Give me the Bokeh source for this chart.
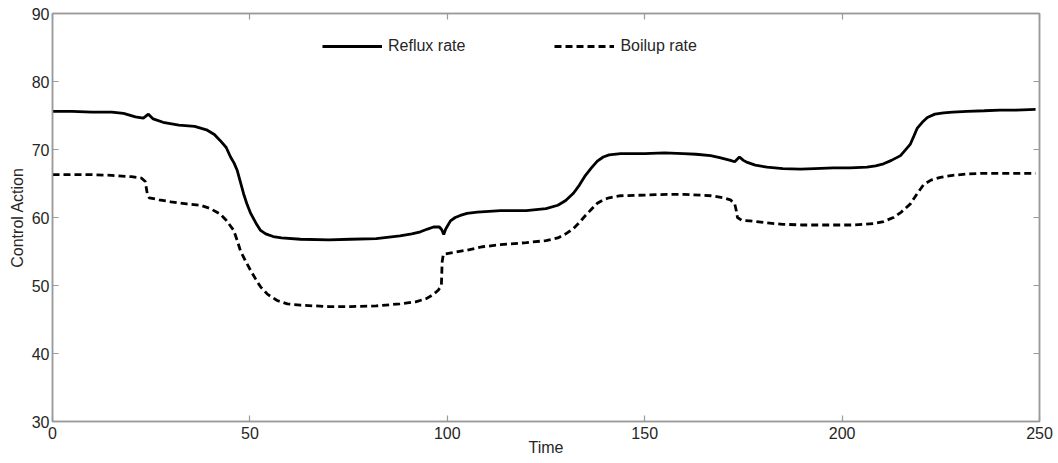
from bokeh.plotting import figure
from bokeh.models import LinearAxis, FixedTicker, Legend, LegendItem, Range1d
from bokeh.embed import file_html
from bokeh.resources import INLINE

# Reflux rate control action over time
reflux_t = [0, 5, 10, 15, 18, 21, 23, 24.3, 25.5, 28, 32, 36, 39, 41, 42.5, 44, 45.1, 46, 46.8,
            47.6, 48.4, 49.3, 50.2, 51.5, 52.7, 54, 55.9, 58, 62.8, 70, 75.5, 82, 88, 91, 93.2,
            95, 96.5, 98, 98.6, 99.1, 99.6, 100.8, 102, 103.3, 105, 107.6, 113.5, 120, 125, 128,
            130, 132, 133.5, 135, 136.5, 138, 139.5, 141, 143.9, 150, 155, 159.8, 163, 166.7,
            169, 171.7, 172.8, 174, 175, 176, 178, 181, 185, 189.4, 193, 197.8, 202, 206.3,
            208.5, 210.5, 212.5, 214.8, 216, 217.3, 218.2, 219, 220.3, 221.6, 223.5, 225.7, 228,
            231.7, 236, 240, 244, 249]
reflux_v = [75.6, 75.6, 75.5, 75.5, 75.3, 74.8, 74.6, 75.2, 74.5, 74.0, 73.6, 73.4, 72.9, 72.2,
            71.3, 70.3, 68.9, 68.0, 66.9, 65.2, 63.5, 61.9, 60.6, 59.2, 58.1, 57.6, 57.2, 57.0,
            56.8, 56.7, 56.8, 56.9, 57.3, 57.6, 57.9, 58.3, 58.6, 58.6, 58.2, 57.5, 58.3, 59.5,
            60.0, 60.3, 60.6, 60.8, 61.0, 61.0, 61.3, 61.8, 62.5, 63.6, 64.8, 66.2, 67.3, 68.3,
            68.9, 69.2, 69.4, 69.4, 69.5, 69.4, 69.3, 69.1, 68.8, 68.4, 68.2, 68.9, 68.4, 68.1,
            67.7, 67.4, 67.2, 67.1, 67.2, 67.3, 67.3, 67.4, 67.6, 67.9, 68.4, 69.1, 69.9, 70.8,
            72.0, 73.1, 74.0, 74.7, 75.2, 75.4, 75.5, 75.6, 75.7, 75.8, 75.8, 75.9]

# Boilup rate control action over time
boilup_t = [0, 5, 10, 15, 20, 22.5, 23.5, 24, 24.5, 27, 30, 34, 37.5, 40, 42.5, 44, 45.9, 46.8,
            47.6, 48.9, 50.2, 51.5, 52.7, 54.5, 56.9, 59.5, 62.8, 70, 75.5, 82, 88, 92, 94.8,
            96.5, 97.7, 98.5, 98.7, 99.0, 101, 105, 109, 113.5, 120, 125, 128, 130, 132, 133.5,
            135, 136.5, 138, 139.5, 141, 143.9, 150, 155.7, 160, 166.7, 170, 171.7, 172.8, 173.2,
            173.5, 174.5, 176.7, 181, 185, 190, 197.8, 203, 208, 210.5, 213, 215, 217.3, 219,
            220.6, 222.5, 224.9, 228, 231.7, 236, 240, 244, 249]
boilup_v = [66.3, 66.3, 66.3, 66.2, 66.0, 65.8, 65.3, 63.5, 62.9, 62.6, 62.3, 62.0, 61.8, 61.3,
            60.5, 59.6, 58.1, 56.6, 55.1, 53.6, 52.2, 50.9, 49.8, 48.7, 47.8, 47.3, 47.1, 46.9,
            46.9, 47.0, 47.3, 47.6, 48.1, 48.7, 49.3, 50.0, 53.5, 54.6, 54.8, 55.2, 55.7, 56.0,
            56.3, 56.6, 57.0, 57.6, 58.4, 59.3, 60.3, 61.2, 62.1, 62.6, 62.9, 63.2, 63.3, 63.4,
            63.4, 63.2, 62.9, 62.6, 62.0, 61.0, 60.0, 59.6, 59.5, 59.2, 59.0, 58.9, 58.9, 58.9,
            59.1, 59.4, 60.0, 60.8, 62.0, 63.5, 64.8, 65.5, 65.9, 66.2, 66.4, 66.5, 66.5, 66.5,
            66.5]

x_ticks = [0, 50, 100, 150, 200, 250]
y_ticks = [30, 40, 50, 60, 70, 80, 90]

FONT = "Liberation Sans"
AXIS_GREY = "#9a9a9a"
TEXT = "#262626"

p = figure(width=1058, height=463, output_backend="svg", toolbar_location=None,
           x_range=Range1d(0, 250), y_range=Range1d(30, 90),
           min_border_left=52, min_border_right=19, min_border_top=13, min_border_bottom=42,
           x_axis_label="Time", y_axis_label="Control Action")
p.xgrid.visible = False
p.ygrid.visible = False
p.outline_line_color = AXIS_GREY
p.outline_line_width = 1.5
p.background_fill_color = "white"
p.border_fill_color = "white"

r1 = p.line(reflux_t, reflux_v, line_color="black", line_width=2.8)
r2 = p.line(boilup_t, boilup_v, line_color="black", line_width=2.8, line_dash="7 4")

def style_axis(ax, ticks, labels=True):
    ax.ticker = FixedTicker(ticks=ticks)
    ax.axis_line_color = AXIS_GREY
    ax.axis_line_width = 1.5
    ax.major_tick_line_color = AXIS_GREY
    ax.major_tick_line_width = 1.2
    ax.major_tick_in = 6
    ax.major_tick_out = 0
    ax.minor_tick_line_color = None
    if labels:
        ax.major_label_text_font = FONT
        ax.major_label_text_font_size = "16px"
        ax.major_label_text_color = TEXT
        ax.axis_label_text_font = FONT
        ax.axis_label_text_font_size = "16px"
        ax.axis_label_text_font_style = "normal"
        ax.axis_label_text_color = TEXT
    else:
        # tick marks only on the mirrored axes
        ax.major_label_text_font_size = "1px"
        ax.major_label_text_color = None
        ax.major_label_standoff = 0

style_axis(p.xaxis[0], x_ticks)
style_axis(p.yaxis[0], y_ticks)
p.xaxis[0].major_label_standoff = 5
p.xaxis[0].axis_label_standoff = -3
p.yaxis[0].major_label_standoff = 3
p.yaxis[0].axis_label_standoff = 3

top_axis = LinearAxis()
style_axis(top_axis, x_ticks, labels=False)
p.add_layout(top_axis, "above")
right_axis = LinearAxis()
style_axis(right_axis, y_ticks, labels=False)
p.add_layout(right_axis, "right")

legend = Legend(items=[LegendItem(label="Reflux rate", renderers=[r1]),
                       LegendItem(label="Boilup rate", renderers=[r2])],
                orientation="horizontal", location=(270, 366),
                border_line_color=None, background_fill_alpha=0,
                label_text_font=FONT, label_text_font_size="16px", label_text_color=TEXT,
                glyph_width=60, glyph_height=16, label_standoff=6, spacing=89,
                padding=4, margin=0)
p.add_layout(legend, "center")

open("out.html", "w").write(file_html(p, INLINE))
